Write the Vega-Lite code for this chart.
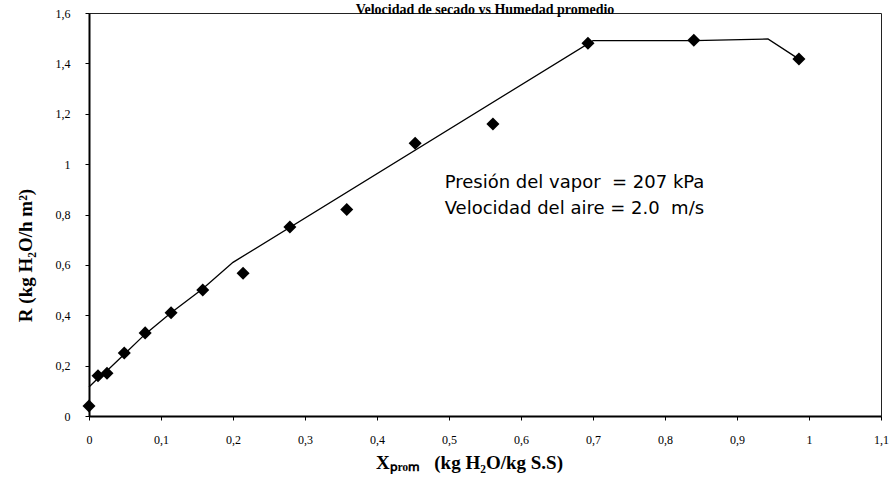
{
  "$schema": "https://vega.github.io/schema/vega-lite/v6.json",
  "width": 792,
  "height": 403,
  "autosize": {"type": "none"},
  "padding": {"left": 89, "top": 13, "right": 15, "bottom": 67},
  "background": "white",
  "config": {"view": {"stroke": "#222222", "strokeWidth": 1}},
  "title": {
    "text": "Velocidad de secado vs Humedad promedio",
    "font": "Liberation Serif",
    "fontSize": 14,
    "fontWeight": "bold",
    "color": "black",
    "anchor": "middle",
    "frame": "group",
    "baseline": "alphabetic",
    "offset": -21
  },
  "datasets": {
    "points": [
      {"x": 0, "y": 0.04},
      {"x": 0.0125, "y": 0.16},
      {"x": 0.025, "y": 0.17},
      {"x": 0.049, "y": 0.25},
      {"x": 0.078, "y": 0.33},
      {"x": 0.114, "y": 0.41},
      {"x": 0.158, "y": 0.5},
      {"x": 0.214, "y": 0.567},
      {"x": 0.279, "y": 0.75},
      {"x": 0.358, "y": 0.82},
      {"x": 0.453, "y": 1.083},
      {"x": 0.561, "y": 1.159},
      {"x": 0.693, "y": 1.48},
      {"x": 0.84, "y": 1.492},
      {"x": 0.986, "y": 1.417}
    ],
    "fit": [
      {"x": 0, "y": 0.115},
      {"x": 0.0125, "y": 0.15},
      {"x": 0.025, "y": 0.18},
      {"x": 0.049, "y": 0.245},
      {"x": 0.078, "y": 0.325},
      {"x": 0.114, "y": 0.41},
      {"x": 0.158, "y": 0.505},
      {"x": 0.2, "y": 0.61},
      {"x": 0.7, "y": 1.49},
      {"x": 0.84, "y": 1.49},
      {"x": 0.943, "y": 1.497},
      {"x": 0.986, "y": 1.417}
    ],
    "notes": [
      {"x": 0.494, "y": 0.925, "t": "Presión del vapor\u00a0 = 207 kPa"},
      {"x": 0.494, "y": 0.82, "t": "Velocidad del aire = 2.0\u00a0 m/s"}
    ]
  },
  "layer": [
    {
      "data": {"name": "fit"},
      "mark": {"type": "line", "color": "black", "strokeWidth": 1.3},
      "encoding": {
        "x": {
          "field": "x",
          "type": "quantitative",
          "scale": {"domain": [0, 1.1], "nice": false, "zero": false},
          "axis": {
            "title": "Xₚᵣₒₘ\u00a0\u00a0 (kg H₂O/kg S.S)",
            "values": [0, 0.1, 0.2, 0.3, 0.4, 0.5, 0.6, 0.7, 0.8, 0.9, 1, 1.1],
            "labelExpr": "replace(format(datum.value, '~f'), '.', ',')",
            "labelFont": "Liberation Serif",
            "labelFontSize": 12,
            "labelColor": "black",
            "labelPadding": 14,
            "labelFlush": false,
            "tickSize": 4,
            "tickColor": "black",
            "domainColor": "black",
            "domainWidth": 2,
            "grid": false,
            "titleFont": "Liberation Serif",
            "titleFontSize": 19,
            "titleFontWeight": "bold",
            "titleColor": "black",
            "titlePadding": 8,
            "titleX": 380,
            "titleAlign": "center"
          }
        },
        "y": {
          "field": "y",
          "type": "quantitative",
          "scale": {"domain": [0, 1.6], "nice": false, "zero": false},
          "axis": {
            "title": "R (kg H₂O/h m²)",
            "values": [0, 0.2, 0.4, 0.6, 0.8, 1, 1.2, 1.4, 1.6],
            "labelExpr": "replace(format(datum.value, '~f'), '.', ',')",
            "labelFont": "Liberation Serif",
            "labelFontSize": 12,
            "labelColor": "black",
            "labelPadding": 15,
            "labelFlush": false,
            "tickSize": 4,
            "tickColor": "black",
            "domainColor": "black",
            "domainWidth": 2,
            "grid": false,
            "titleFont": "Liberation Serif",
            "titleFontSize": 19,
            "titleFontWeight": "bold",
            "titleColor": "black",
            "titlePadding": 20,
            "titleY": 242,
            "titleAlign": "center"
          }
        }
      }
    },
    {
      "data": {"name": "points"},
      "mark": {"type": "point", "shape": "diamond", "filled": true, "color": "black", "opacity": 1, "size": 170},
      "encoding": {
        "x": {"field": "x", "type": "quantitative"},
        "y": {"field": "y", "type": "quantitative"}
      }
    },
    {
      "data": {"name": "notes"},
      "mark": {"type": "text", "align": "left", "baseline": "middle", "font": "DejaVu Sans", "fontSize": 18, "color": "black"},
      "encoding": {
        "x": {"field": "x", "type": "quantitative"},
        "y": {"field": "y", "type": "quantitative"},
        "text": {"field": "t", "type": "nominal"}
      }
    }
  ]
}
